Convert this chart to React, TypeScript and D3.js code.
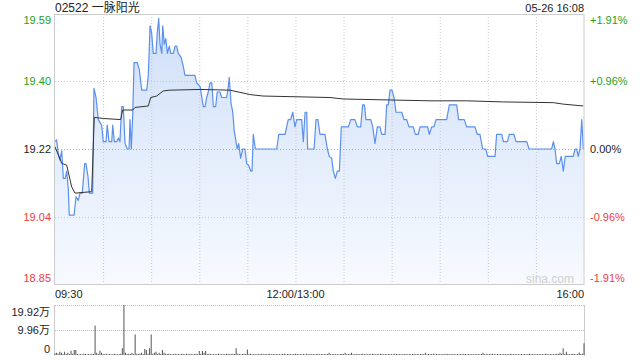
import React from "react";
import * as d3 from "d3";

// ---- data ----
const TITLE = "02522 一脉阳光";
const STAMP = "05-26 16:08";
const PREV_CLOSE = 19.22;
const PCT_TICKS = [1.91, 0.96, 0, -0.96, -1.91];
const PRICE_LABELS = ["19.59", "19.40", "19.22", "19.04", "18.85"];
const PCT_LABELS = ["+1.91%", "+0.96%", "0.00%", "-0.96%", "-1.91%"];
const TIME_TICKS = [0, 150, 330];
const TIME_LABELS = ["09:30", "12:00/13:00", "16:00"];
const GRID_MINUTES = [30, 60, 90, 120, 150, 180, 210, 240, 270, 300];
const VOL_TICKS = [19.92, 9.96, 0];
const VOL_LABELS = ["19.92万", "9.96万", "0"];

// minutes since 09:30 (lunch removed) and last price
const priceMin = [
  0, 1, 2, 3, 4.2, 5.2, 6.4, 7.3, 8.3, 8.9, 11.9, 13.1, 14.5, 15.6, 17, 18.5, 19.3, 20.6, 21.4, 23.5,
  24.3, 25.6, 27, 29.1, 30.1, 31.8, 32.6, 33.7, 35.4, 36, 37, 38.5, 39.5, 40.5, 41.6, 42.6, 43.7, 45.1,
  46.2, 46.8, 47.6, 48.5, 49.3, 51.3, 52.6, 54.1, 57.2, 58.2, 59.3, 60.3, 61.3, 63, 63.8, 64.7, 65.5,
  66.6, 67.2, 68.2, 69.1, 70.1, 71.3, 72.2, 73.8, 74.9, 75.9, 76.9, 78.6, 80, 81.1, 87.3, 88.4, 90.5,
  92.5, 93.6, 94.6, 95.6, 96.7, 97.8, 98.8, 100.2, 101.2, 102.9, 104, 107.1, 108.1, 108.7, 109.8,
  110.9, 111.8, 112.9, 113.7, 114.6, 115.8, 117.1, 118.5, 119.6, 120.8, 122.1, 122.9, 123.7, 125,
  138.3, 139.6, 143.5, 145.5, 147, 148.3, 149.7, 150.8, 153.9, 154.9, 156, 157, 157.6, 161.6, 162.8,
  164, 165.3, 168.4, 169.9, 171.1, 172.6, 173.6, 174.9, 176.1, 177.4, 178.6, 183, 184.5, 187.1, 188.6,
  190.7, 191.9, 193, 194, 197, 198.2, 199.6, 201.1, 202.7, 203.8, 205.9, 206.9, 207.9, 209, 210.2,
  211.5, 212.7, 216.3, 217.7, 219.4, 220.8, 223.5, 224.8, 226.6, 227.7, 232.5, 233.5, 235, 236.4,
  237.7, 244.3, 246, 250.6, 251.8, 255.3, 256.8, 262, 263.4, 265.1, 266.8, 268.7, 269.9, 274.5, 275.5,
  278.7, 279.7, 282.2, 283.4, 286.3, 287.6, 294.3, 295.7, 309.8, 310.9, 311.9, 313, 314.6, 315.8,
  317.1, 318.3, 323.3, 324.4, 325.4, 326.4, 327.5, 328.6, 329.6,
];
const priceVal = [
  19.24, 19.245, 19.21, 19.19, 19.215, 19.14, 19.14, 19.16, 19.11, 19.04, 19.04, 19.09, 19.08, 19.1, 19.1, 19.18, 19.18, 19.145, 19.1, 19.1,
  19.385, 19.36, 19.3, 19.285, 19.24, 19.24, 19.285, 19.24, 19.24, 19.285, 19.24, 19.24, 19.25, 19.24, 19.335, 19.335, 19.235, 19.22,
  19.22, 19.3, 19.22, 19.315, 19.455, 19.455, 19.435, 19.38, 19.38, 19.42, 19.555, 19.535, 19.48, 19.48, 19.535, 19.575, 19.505,
  19.48, 19.555, 19.505, 19.52, 19.48, 19.5, 19.48, 19.48, 19.5, 19.5, 19.48, 19.47, 19.445, 19.42, 19.42, 19.4, 19.39,
  19.335, 19.335, 19.36, 19.375, 19.4, 19.4, 19.335, 19.335, 19.375, 19.375, 19.36, 19.36, 19.39, 19.415, 19.345,
  19.32, 19.27, 19.24, 19.22, 19.235, 19.195, 19.22, 19.22, 19.18, 19.176, 19.16, 19.16, 19.26, 19.22,
  19.22, 19.26, 19.26, 19.3, 19.3, 19.32, 19.28, 19.3, 19.3, 19.24, 19.32, 19.32, 19.22, 19.22, 19.3,
  19.3, 19.26, 19.26, 19.22, 19.2, 19.195, 19.16, 19.14, 19.16, 19.16, 19.28, 19.28, 19.3, 19.3, 19.28,
  19.28, 19.34, 19.34, 19.3, 19.3, 19.28, 19.235, 19.28, 19.28, 19.26, 19.26, 19.34, 19.34, 19.38, 19.38,
  19.36, 19.32, 19.32, 19.3, 19.3, 19.28, 19.28, 19.26, 19.26, 19.28, 19.28, 19.26, 19.28, 19.28,
  19.3, 19.3, 19.34, 19.34, 19.3, 19.3, 19.28, 19.28, 19.26, 19.26, 19.22, 19.22, 19.2, 19.2, 19.26,
  19.26, 19.24, 19.24, 19.26, 19.26, 19.24, 19.24, 19.22, 19.22, 19.24, 19.22, 19.18, 19.18, 19.2,
  19.16, 19.2, 19.2, 19.22, 19.22, 19.2, 19.22, 19.3, 19.22,
];

// average price line
const avgMin = [0, 4.2, 7.3, 10.4, 12.5, 22.9, 24.5, 30.1, 41, 42.2, 48.5, 49.9, 58.2, 59.7, 63.4, 67.6, 71.7, 90.5, 109.2, 115.4, 121.6, 129.8, 171.6, 179.7, 233.9, 256.8, 279.7, 310.9, 317.1, 329.6];
const avgVal = [19.226, 19.181, 19.176, 19.117, 19.1, 19.104, 19.306, 19.303, 19.3, 19.326, 19.326, 19.333, 19.337, 19.36, 19.364, 19.378, 19.38, 19.382, 19.38, 19.374, 19.368, 19.364, 19.36, 19.356, 19.351, 19.351, 19.348, 19.346, 19.342, 19.337];

// volume per minute (万股), minute 0..330
const volumes = [
  0.6, 0.9, 0.5, 1.3, 0.9, 0.4, 1.3, 0.4, 0.9, 0.4,
  1.7, 0.5, 2.0, 2.0, 0.4, 0.3, 0.4, 0.3, 0.5, 0.4,
  0.3, 0.4, 0.3, 0.5, 0.4, 11.7, 0.9, 0.4, 1.7, 0.9,
  0.4, 0.3, 0.5, 0.3, 0.4, 0.3, 0.3, 0.5, 0.4, 0.3,
  0.4, 0.5, 2.7, 19.92, 0.9, 0.4, 0.5, 0.4, 0.9, 0.4,
  8.2, 0.5, 0.4, 0.5, 0.9, 0.4, 2.4, 2.0, 0.5, 2.7,
  8.2, 0.5, 0.9, 1.3, 0.4, 0.9, 0.4, 2.0, 0.9, 0.5,
  0.4, 0.5, 0.4, 0.3, 0.4, 0.5, 0.3, 0.4, 0.3, 0.5,
  0.4, 0.3, 0.5, 0.4, 0.3, 0.4, 0.3, 0.4, 0.5, 0.3,
  1.6, 0.5, 1.6, 0.9, 1.6, 0.4, 0.5, 0.4, 0.3, 0.4,
  0.3, 0.4, 0.5, 0.3, 0.4, 0.3, 0.4, 0.5, 0.4, 0.3,
  0.4, 0.5, 0.4, 2.7, 0.5, 0.4, 0.3, 0.4, 0.5, 0.4,
  2.2, 0.4, 0.5, 0.3, 0.4, 0.3, 0.4, 0.3, 0.4, 0.5,
  0.3, 0.4, 0.3, 0.4, 0.5, 0.3, 0.4, 0.3, 0.4, 0.3,
  0.4, 0.3, 0.4, 0.5, 0.3, 0.4, 0.3, 0.4, 0.3, 0.4,
  0.5, 0.4, 0.3, 0.4, 0.3, 0.4, 0.3, 0.5, 0.3, 0.4,
  0.3, 0.4, 0.3, 0.4, 0.5, 0.3, 0.4, 0.3, 0.4, 0.3,
  0.4, 0.9, 0.4, 0.3, 0.4, 0.3, 0.4, 0.3, 0.4, 0.5,
  0.4, 0.9, 0.3, 0.4, 0.4, 0.9, 0.3, 0.4, 0.3, 0.4,
  0.3, 0.4, 0.5, 0.3, 0.4, 0.3, 0.4, 0.3, 0.5, 0.4,
  0.3, 0.4, 0.3, 0.5, 0.4, 0.3, 0.4, 0.3, 0.4, 0.3,
  0.4, 0.3, 0.5, 0.4, 0.3, 0.4, 0.3, 0.4, 0.3, 0.4,
  0.3, 0.4, 0.3, 0.4, 0.5, 0.3, 0.4, 0.3, 0.4, 0.3,
  0.4, 0.9, 0.3, 0.4, 0.3, 0.4, 0.5, 0.3, 0.4, 0.3,
  0.4, 0.3, 0.4, 0.3, 0.5, 0.4, 0.3, 0.4, 0.3, 0.4,
  0.3, 0.4, 0.3, 0.4, 0.3, 0.5, 0.4, 0.3, 0.4, 0.3,
  0.4, 0.3, 0.4, 0.3, 0.4, 0.3, 0.4, 0.9, 0.3, 0.4,
  0.3, 0.4, 0.3, 0.5, 0.4, 0.3, 0.4, 0.3, 0.4, 0.3,
  0.4, 0.3, 0.4, 0.3, 0.5, 0.4, 0.3, 0.4, 0.3, 0.4,
  0.3, 0.4, 0.3, 0.4, 0.3, 0.4, 0.5, 0.3, 0.4, 0.3,
  0.4, 0.3, 0.4, 0.3, 0.4, 0.3, 0.5, 0.4, 0.3, 0.4,
  0.4, 0.3, 0.4, 0.5, 0.4, 0.9, 0.5, 2.7, 0.4, 1.3,
  0.4, 0.3, 0.4, 0.5, 0.4, 0.3, 0.4, 1.0, 0.4, 0.5,
  4.7,
];

const GREEN = "#1ba21b";
const RED = "#f03c3c";
const DARK = "#222";
const FONT = "'Liberation Sans', Arial, 'Noto Sans CJK SC', sans-serif";

export default function App() {
  const W = 640, H = 360;
  const L = 55, R = 584, T = 14, B = 284;
  const VT = 305, VB = 355;

  const x = d3.scaleLinear().domain([0, 330]).range([L, R]);
  const y = d3
    .scaleLinear()
    .domain([PREV_CLOSE * (1 - 0.0191), PREV_CLOSE * (1 + 0.0191)])
    .range([B, T]);
  const vy = d3.scaleLinear().domain([0, VOL_TICKS[0]]).range([VB, VT]);

  const pts: [number, number][] = priceMin.map((m, i) => [m, priceVal[i]]);
  const avgPts: [number, number][] = avgMin.map((m, i) => [m, avgVal[i]]);

  const line = d3.line<[number, number]>().x((d) => x(d[0])).y((d) => y(d[1]));
  const area = d3
    .area<[number, number]>()
    .x((d) => x(d[0]))
    .y0(B)
    .y1((d) => y(d[1]));

  const labelColor = (p: number) => (p > 0 ? GREEN : p < 0 ? RED : DARK);
  const labelY = (i: number, p: number) => {
    const yy = y(PREV_CLOSE * (1 + p / 100));
    if (i === 0) return yy + 6;
    if (i === PCT_TICKS.length - 1) return yy - 6;
    return yy;
  };

  return (
    <svg
      width={W}
      height={H}
      style={{ position: "absolute", left: 0, top: 0, background: "#fff" }}
      fontFamily={FONT}
    >
      <defs>
        <linearGradient id="fillGrad" gradientUnits="userSpaceOnUse" x1="0" y1={T} x2="0" y2={B}>
          <stop offset="0%" stopColor="#cfdff8" />
          <stop offset="100%" stopColor="#f7faff" />
        </linearGradient>
      </defs>
      <rect x={0} y={0} width={W} height={H} fill="#fff" />

      {/* title */}
      <text x={L} y={7.5} fontSize={12} fill="#222" dominantBaseline="central">
        {TITLE}
      </text>
      <text x={R} y={7.5} fontSize={11} fill="#222" textAnchor="end" dominantBaseline="central">
        {STAMP}
      </text>

      {/* area */}
      <path d={area(pts) || ""} fill="url(#fillGrad)" />

      {/* vertical grid */}
      {GRID_MINUTES.map((m) => (
        <line key={"vg" + m} x1={x(m) + 0.5} x2={x(m) + 0.5} y1={T} y2={B} stroke="#c8c8c8" strokeDasharray="1,2" />
      ))}
      {/* horizontal grid */}
      {PCT_TICKS.slice(1, -1).map((p) => {
        const yy = Math.round(y(PREV_CLOSE * (1 + p / 100))) + 0.5;
        return (
          <line key={"hg" + p} x1={L} x2={R} y1={yy} y2={yy} stroke={p === 0 ? "#b0b0b0" : "#c8c8c8"} strokeDasharray="1,2" />
        );
      })}

      {/* watermark */}
      <text x={574} y={279} fontSize={12} fill="#cfcfcf" textAnchor="end" dominantBaseline="central">
        sina.com
      </text>

      {/* lines */}
      <path d={line(pts) || ""} fill="none" stroke="#5a90ec" strokeWidth={1.2} strokeLinejoin="round" />
      <path d={line(avgPts) || ""} fill="none" stroke="#333" strokeWidth={1} />

      {/* frame */}
      <rect x={L - 0.5} y={T + 0.5} width={R - L + 0.5} height={B - T} fill="none" stroke="#cccccc" />

      {/* price labels */}
      {PCT_TICKS.map((p, i) => (
        <text key={"pl" + i} x={51} y={labelY(i, p)} fontSize={11} fill={labelColor(p)} textAnchor="end" dominantBaseline="central">
          {PRICE_LABELS[i]}
        </text>
      ))}
      {PCT_TICKS.map((p, i) => (
        <text key={"pr" + i} x={590} y={labelY(i, p)} fontSize={11} fill={labelColor(p)} dominantBaseline="central">
          {PCT_LABELS[i]}
        </text>
      ))}

      {/* time labels */}
      {TIME_TICKS.map((m, i) => (
        <text
          key={"tl" + i}
          x={x(m)}
          y={293.5}
          fontSize={11}
          fill="#222"
          textAnchor={i === 0 ? "start" : i === TIME_TICKS.length - 1 ? "end" : "middle"}
          dominantBaseline="central"
        >
          {TIME_LABELS[i]}
        </text>
      ))}

      {/* volume panel */}
      {VOL_TICKS.slice(0, 2).map((v) => (
        <line key={"vh" + v} x1={L} x2={R} y1={Math.round(vy(v)) + 0.5} y2={Math.round(vy(v)) + 0.5} stroke="#bbbbbb" strokeDasharray="1,1" />
      ))}
      <line x1={L - 0.5} x2={L - 0.5} y1={VT} y2={VB + 1} stroke="#cccccc" />
      <line x1={R + 0.5} x2={R + 0.5} y1={VT} y2={VB + 1} stroke="#cccccc" />
      {volumes.map((v, i) => (
        <rect key={"vb" + i} x={x(i) - 0.5} y={vy(v)} width={1} height={VB - vy(v)} fill="#555" />
      ))}
      {VOL_TICKS.map((v, i) => (
        <text
          key={"vl" + i}
          x={50}
          y={i === 0 ? vy(v) + 7 : i === VOL_TICKS.length - 1 ? vy(v) - 6 : vy(v)}
          fontSize={11}
          fill="#222"
          textAnchor="end"
          dominantBaseline="central"
        >
          {VOL_LABELS[i]}
        </text>
      ))}
    </svg>
  );
}
